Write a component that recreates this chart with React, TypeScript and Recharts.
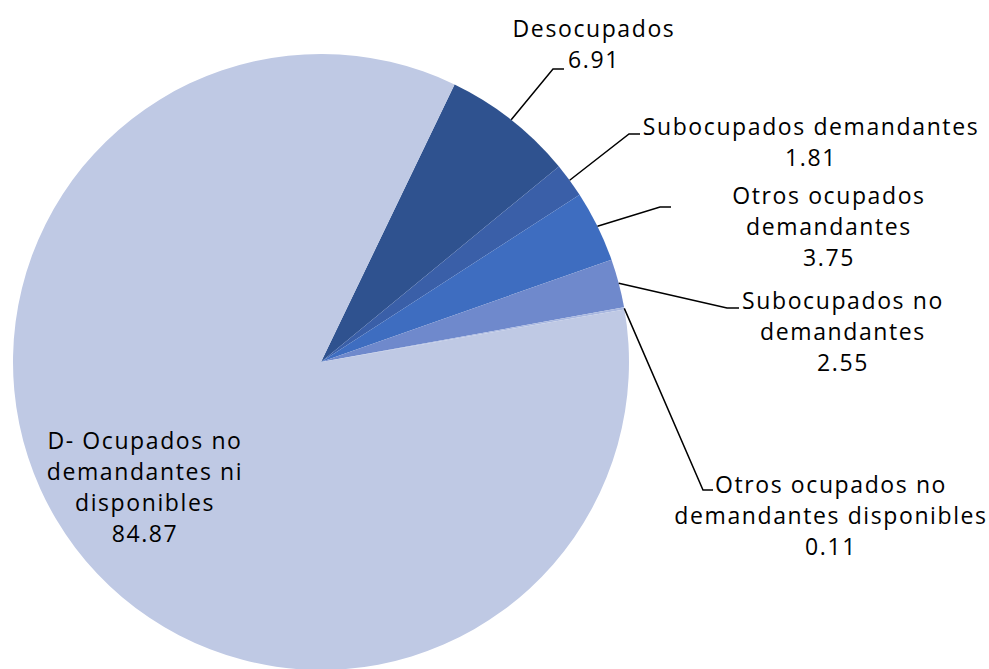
import { Cell, Pie, PieChart } from "recharts";

// categories, in clockwise order starting from the Desocupados slice
const categories = [
	"Desocupados",
	"Subocupados demandantes",
	"Otros ocupados demandantes",
	"Subocupados no demandantes",
	"Otros ocupados no demandantes disponibles",
	"D- Ocupados no demandantes ni disponibles",
];
const values = [6.91, 1.81, 3.75, 2.55, 0.11, 84.87];

// how each label wraps
const labelLines = [
	["Desocupados"],
	["Subocupados demandantes"],
	["Otros ocupados", "demandantes"],
	["Subocupados no", "demandantes"],
	["Otros ocupados no", "demandantes disponibles"],
	["D- Ocupados no", "demandantes ni", "disponibles"],
];

const colors = ["#2f528f", "#3a5fa8", "#3e6dc0", "#6f89cc", "#a9b8e0", "#bfc9e4"];

const W = 989;
const H = 669;
const CX = 321;
const CY = 362;
const R = 308;
const START = 64.3;
const LINE_H = 31;

// where each label sits: leader elbow, leader end, text centre x and first line y
const labelLayout = [
	{ elbow: [553, 69], end: [564, 69], tx: 594, ty: 28 },
	{ elbow: [629, 134], end: [640, 134], tx: 811, ty: 126 },
	{ elbow: [660, 207], end: [671, 207], tx: 829, ty: 195 },
	{ elbow: [727, 308], end: [739, 308], tx: 843, ty: 300 },
	{ elbow: [703, 490], end: [713, 490], tx: 831, ty: 484 },
	{ elbow: null, end: null, tx: 145, ty: 440 },
];

const data = categories.map((name, i) => ({ name, value: values[i] }));

const RAD = Math.PI / 180;

const renderLabel = (props: any) => {
	const { cx, cy, midAngle, outerRadius, index, value } = props;
	const lay = labelLayout[index];
	const lines = [...labelLines[index], value.toFixed(2)];
	const sx = cx + outerRadius * Math.cos(-midAngle * RAD);
	const sy = cy + outerRadius * Math.sin(-midAngle * RAD);
	return (
		<g key={`lbl-${index}`}>
			{lay.elbow && (
				<polyline
					points={`${sx},${sy} ${lay.elbow[0]},${lay.elbow[1]} ${lay.end![0]},${lay.end![1]}`}
					fill="none"
					stroke="#000"
					strokeWidth={1.5}
				/>
			)}
			<text
				x={lay.tx}
				textAnchor="middle"
				fontFamily="'Open Sans', sans-serif"
				fontSize={23}
				letterSpacing={1.6}
				fill="#000"
			>
				{lines.map((l, i) => (
					<tspan key={i} x={lay.tx} y={lay.ty + i * LINE_H} dominantBaseline="central">
						{l}
					</tspan>
				))}
			</text>
		</g>
	);
};

export default function App() {
	return (
		<div style={{ position: "absolute", left: 0, top: 0, width: W, height: H, background: "#fff" }}>
			<PieChart width={W} height={H} margin={{ top: 0, right: 0, bottom: 0, left: 0 }}>
				<Pie
					data={data}
					dataKey="value"
					nameKey="name"
					cx={CX}
					cy={CY}
					outerRadius={R}
					startAngle={START}
					endAngle={START - 360}
					stroke="none"
					label={renderLabel}
					labelLine={false}
					isAnimationActive={false}
				>
					{data.map((d, i) => (
						<Cell key={d.name} fill={colors[i]} />
					))}
				</Pie>
			</PieChart>
		</div>
	);
}
